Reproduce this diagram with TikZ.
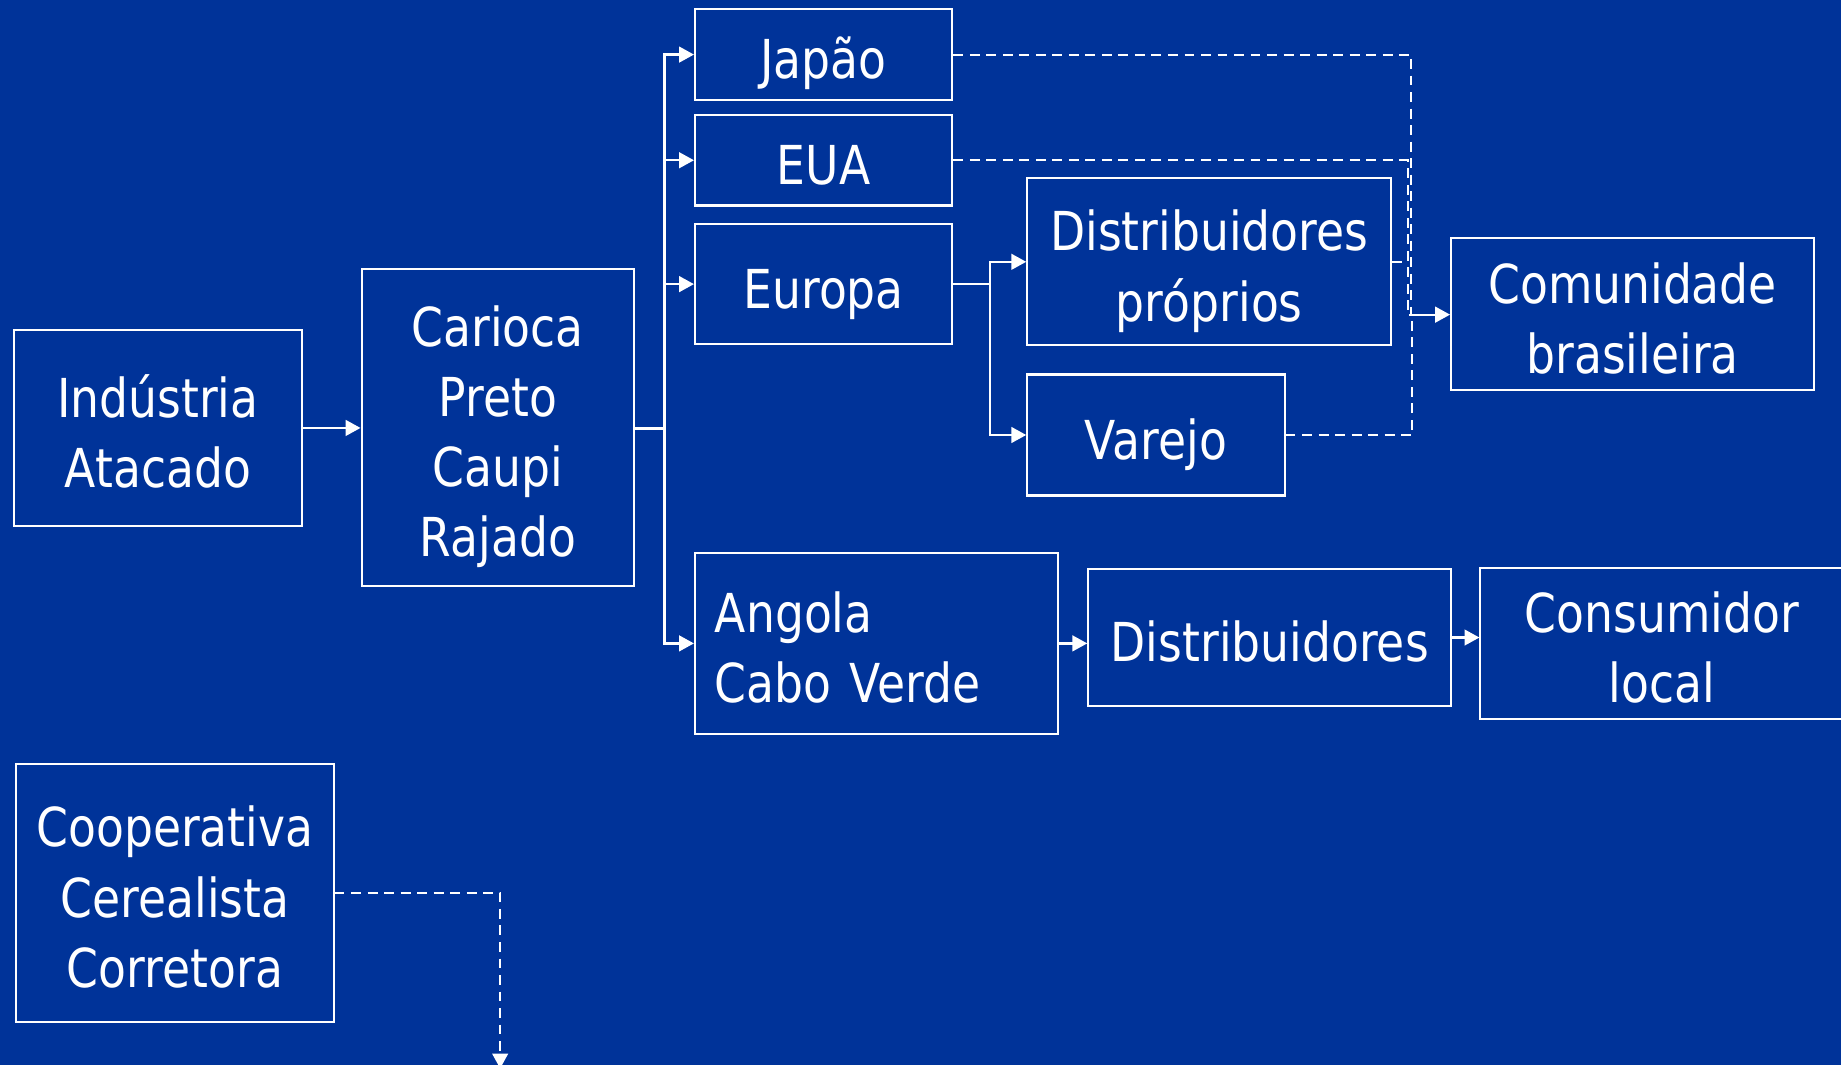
\documentclass[tikz,border=0pt]{standalone}
\usepackage{fontspec}
\setmainfont{DejaVu Sans}[FakeStretch=0.85]
\usetikzlibrary{arrows.meta}
\definecolor{bg}{HTML}{003399}
% struts fixing the first line's height and the last line's depth
\newcommand\tstr{\rule{0pt}{15.2pt}}
\newcommand\bstr{\rule[-3.5pt]{0pt}{3.5pt}}
\begin{document}
\begin{tikzpicture}[x=0.01cm,y=-0.01cm,
 box/.style={draw=white, line width=0.5pt, text=white, inner sep=0pt, align=center, font=\fontsize{13pt}{17pt}\selectfont},
 arr/.style={draw=white, line width=0.55pt, -{Triangle[length=3.6pt,width=3.8pt]}},
 ln/.style={draw=white, line width=0.55pt},
 dsh/.style={draw=white, line width=0.5pt, dash pattern=on 2.4pt off 1.6pt}]
\fill[bg] (0,0) rectangle (1568,907);
\useasboundingbox (0,0) rectangle (1568,907);

\node[box, minimum width=2.45cm, minimum height=1.67cm] (ind) at (134.5,364.5) {\tstr Indústria\\Atacado\bstr};
\node[box, minimum width=2.32cm, minimum height=2.70cm] (car) at (424,364) {\tstr Carioca\\Preto\\Caupi\\Rajado\bstr};
\node[box, minimum width=2.19cm, minimum height=0.77cm] (jap) at (701.5,46.5) {\tstr Japão\bstr};
\node[box, minimum width=2.19cm, minimum height=0.77cm] (eua) at (701.5,136.5) {\tstr EUA\bstr};
\node[box, minimum width=2.19cm, minimum height=1.02cm] (eur) at (701.5,242) {\tstr Europa\bstr};
\node[box, minimum width=3.10cm, minimum height=1.42cm] (dpr) at (1030,223) {\tstr Distribuidores\\próprios\bstr};
\node[box, minimum width=2.19cm, minimum height=1.03cm] (var) at (984.5,370.5) {\tstr Varejo\bstr};
\node[box, minimum width=3.09cm, minimum height=1.29cm] (com) at (1390.5,267.5) {\tstr Comunidade\\brasileira\bstr};
\node[box, minimum width=3.09cm, minimum height=1.54cm, text width=2.75cm, align=left] (ang) at (746.5,548) {\tstr Angola\\Cabo Verde\bstr};
\node[box, minimum width=3.09cm, minimum height=1.16cm] (dis) at (1081.5,543) {\tstr Distribuidores\bstr};
\node[box, minimum width=3.09cm, minimum height=1.28cm] (con) at (1415.5,548) {\tstr Consumidor\\local\bstr};
\node[box, minimum width=2.70cm, minimum height=2.19cm] (coo) at (149,760.5) {\tstr Cooperativa\\Cerealista\\Corretora\bstr};

% main flow
\draw[arr] (ind.east) -- (car.west |- ind.east);
\coordinate (bus) at (566,365);
\draw[ln] (car.east |- bus) -- (bus);
\draw[arr] (bus) |- (jap.west);
\draw[arr] (bus) |- (eua.west);
\draw[arr] (bus) |- (eur.west);
\draw[arr] (bus) |- (ang.west);

% Europa split
\coordinate (eb) at (843,242);
\draw[ln] (eur.east) -- (eb);
\draw[arr] (eb) |- (dpr.west);
\draw[arr] (eb) |- (var.west);

% dashed links to Comunidade
\coordinate (cm) at (1200,268);
\coordinate (cj) at (1202,268);
\coordinate (ce) at (1199,268);
\coordinate (cv) at (1203,268);
\draw[dsh] (jap.east) -| (cj);
\draw[dsh] (eua.east) -| (ce);
\draw[dsh] (dpr.east) -- (dpr.east -| cm);
\draw[dsh] (var.east) -| (cv);
\draw[arr] (cm) -- (com.west |- cm);

% Africa chain
\draw[arr] (ang.east) -- (ang.east -| dis.west);
\draw[arr] (dis.east) -- (dis.east -| con.west);

% Cooperativa
\coordinate (cd) at (426,910);
\draw[dsh, -{Triangle[length=3.6pt,width=3.8pt]}] (coo.east) -| (cd);
\end{tikzpicture}
\end{document}
